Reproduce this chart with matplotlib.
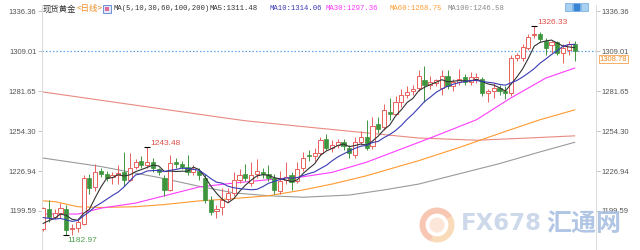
import matplotlib
matplotlib.use("Agg")
import matplotlib.pyplot as plt
import matplotlib.transforms as mtransforms
from matplotlib.patches import Rectangle, Circle, Wedge
import numpy as np
import pandas as pd

# daily candles
opens = [1187, 1201, 1195.5, 1198, 1201, 1187, 1188, 1191, 1222, 1216,
         1227, 1225, 1222.5, 1224, 1226, 1221, 1230, 1234, 1231, 1233,
         1228, 1222, 1214, 1233, 1232, 1230, 1226, 1227, 1222, 1207,
         1199.5, 1202, 1208, 1212, 1221, 1225, 1219, 1225, 1226, 1225,
         1222, 1213, 1221, 1224, 1220, 1229, 1238, 1237, 1239, 1249,
         1243, 1245, 1247, 1243, 1238, 1247, 1250, 1244, 1259, 1257,
         1267, 1266, 1274, 1279, 1281.5, 1284, 1289, 1286, 1287, 1284,
         1292, 1285, 1288, 1291, 1288, 1290, 1290, 1280, 1282, 1284,
         1282, 1280, 1304, 1304, 1311, 1320, 1321, 1316, 1313, 1315,
         1308, 1310, 1314]
highs = [1202.5, 1207, 1201, 1205, 1204, 1191, 1195, 1224, 1225, 1232,
         1229, 1227, 1226, 1231, 1240, 1239, 1235, 1237, 1243.48, 1236,
         1229, 1224, 1238, 1236, 1234, 1238, 1231, 1229, 1225, 1210,
         1204, 1215, 1215, 1226, 1228, 1232, 1233, 1235, 1229, 1231,
         1225, 1227, 1233, 1226, 1233, 1240, 1241, 1242.5, 1250, 1252,
         1248, 1249, 1249, 1245, 1250, 1254, 1262, 1264, 1264, 1273,
         1277, 1278, 1283, 1285, 1286, 1296, 1299, 1292, 1290, 1296,
         1296, 1290, 1297, 1293, 1295, 1294, 1291, 1283, 1287, 1286,
         1285, 1306, 1308, 1314, 1321, 1326.33, 1322, 1318, 1316, 1316,
         1314, 1316, 1316]
lows = [1186, 1192, 1194, 1195, 1182.97, 1183, 1185, 1190, 1211, 1213.5,
        1223, 1220, 1218, 1218, 1217, 1220, 1228, 1229, 1229, 1226,
        1224, 1210, 1213, 1229, 1228, 1224, 1224, 1221, 1205, 1197,
        1195, 1197, 1206, 1210, 1219, 1220, 1217, 1222, 1222, 1220,
        1211, 1211, 1218, 1214, 1219, 1227, 1234, 1234, 1238, 1241,
        1240, 1243, 1241, 1236, 1236, 1245, 1241, 1242, 1253, 1255,
        1262, 1265, 1271, 1277, 1279, 1282, 1274, 1283, 1285, 1279,
        1283, 1282, 1286, 1286, 1286, 1287, 1278, 1274, 1277, 1279,
        1276, 1278, 1302, 1302, 1310, 1318, 1315, 1306, 1308, 1306,
        1301, 1306, 1302]
closes = [1201.5, 1195.5, 1198, 1201.5, 1186.5, 1188, 1192, 1222, 1215, 1226,
          1225, 1222, 1224, 1225.5, 1221, 1229, 1233, 1231, 1233, 1229,
          1226, 1214, 1232.5, 1231.5, 1230, 1226, 1228, 1224, 1207, 1199,
          1201, 1207, 1212, 1221, 1224, 1222, 1224, 1227, 1225, 1222,
          1214, 1220, 1223, 1219.5, 1228, 1236, 1237, 1239, 1248, 1243,
          1245, 1247, 1244, 1239, 1247, 1250, 1243, 1258, 1256, 1269,
          1266, 1274, 1279, 1281, 1283, 1292, 1286, 1288, 1289, 1292,
          1285, 1288, 1290, 1288, 1291, 1291.5, 1280, 1282, 1284, 1282,
          1280, 1304, 1306, 1312, 1318.5, 1321, 1317, 1311, 1315, 1308,
          1311, 1314, 1308.78]
# closes just before the visible window (estimated from where MA5/MA10 start)
prior_closes = [1200, 1203, 1198, 1196, 1198, 1186, 1190, 1187, 1191]

# longer moving averages, read at sample candles
ma30_idx = [0, 6, 10, 16, 21, 27, 33, 39, 45, 50, 56, 62, 67, 75, 81, 87, 92]
ma30_val = [1197.5, 1197.5, 1201.5, 1205, 1210, 1216, 1218.7, 1221, 1223, 1226,
            1233, 1242, 1249.5, 1262, 1277, 1290.5, 1297.36]
ma60_idx = [0, 2, 6, 10, 16, 21, 27, 31, 39, 45, 50, 56, 62, 65, 72, 80, 86, 92]
ma60_val = [1206.5, 1206, 1202.5, 1202, 1202.5, 1204, 1206.5, 1207.5, 1210, 1214,
            1218, 1223.7, 1230.6, 1234, 1243, 1254, 1262, 1268.75]
ma100_idx = [0, 10, 20, 27, 33, 39, 45, 53, 59, 65, 72, 79, 86, 92]
ma100_val = [1235.8, 1230, 1222.5, 1216.5, 1212, 1210, 1209, 1210.5, 1214, 1218,
             1225, 1232, 1240, 1246.58]
ma200_idx = [0, 15, 31, 35, 45, 56, 65, 75, 84, 92]
ma200_val = [1281, 1272.5, 1263.5, 1261.3, 1257.3, 1253, 1249.5, 1248, 1249.5, 1251]

yticks = [1199.59, 1226.94, 1254.30, 1281.65, 1309.01, 1336.36]
last_price = 1308.78

UP = "#e8615c"
DOWN = "#3d963d"
W, H = 640, 250

fig = plt.figure(figsize=(W / 100, H / 100), dpi=100)
ax = fig.add_axes([42 / W, 0, 554 / W, 245 / H])
ax.set_xlim(-0.2, 95.7)
ax.set_ylim(1172.9, 1340.5)

o = np.array(opens)
h = np.array(highs)
l = np.array(lows)
c = np.array(closes)
x = np.arange(len(c))
up = c >= o

# long MAs beneath the candles
ax.plot(ma200_idx, ma200_val, color="#e88a80", lw=0.8, zorder=1)
ax.plot(ma100_idx, ma100_val, color="#9a9a9a", lw=0.8, zorder=1)
ax.plot(ma60_idx, ma60_val, color="#ff9a30", lw=0.8, zorder=1)
ax.plot(ma30_idx, ma30_val, color="#ff3cff", lw=0.8, zorder=1)

# candles: red hollow up, green filled down
ax.vlines(x, l, h, colors=np.where(up, UP, DOWN), lw=0.7, zorder=2)
bottom = np.minimum(o, c)
height = np.maximum(np.abs(c - o), 0.5)
ax.bar(x[up], height[up], bottom=bottom[up], width=0.72, facecolor="white",
       edgecolor=UP, lw=0.7, zorder=3)
ax.bar(x[~up], height[~up], bottom=bottom[~up], width=0.72, facecolor=DOWN,
       edgecolor=DOWN, lw=0.5, zorder=3)

# MA5 / MA10 from closes
s = pd.Series(prior_closes + closes)
n0 = len(prior_closes)
ma5 = s.rolling(5, min_periods=1).mean().values[n0:]
ma10 = s.rolling(10, min_periods=1).mean().values[n0:]
ax.plot(x, ma5, color="#333333", lw=0.8, zorder=4)
ax.plot(x, ma10, color="#3a3ab4", lw=0.8, zorder=4)

# last price line + box
ax.axhline(last_price, color="#5ea6ee", lw=0.9, ls=(0, (1.2, 1.6)), zorder=1)
trans = mtransforms.blended_transform_factory(ax.transAxes, ax.transData)
ax.annotate(f"{last_price:.2f}", xy=(1.0, last_price), xycoords=trans,
            xytext=(2.5, -3), textcoords="offset points", va="top", ha="left",
            fontsize=5.5, color="#f08a24", family="Liberation Sans",
            bbox=dict(facecolor="white", edgecolor="#f5a050", lw=0.6, pad=0.6),
            zorder=6, annotation_clip=False)

# high / low marks
i_hi1 = int(np.argmax(h[:40]))
i_hi2 = int(np.argmax(h))
i_lo = int(np.argmin(l))
for i in (i_hi1, i_hi2):
    ax.plot(i, h[i], marker="_", color="k", ms=4, mew=0.8, zorder=5)
    ax.annotate(f"{h[i]:.2f}", xy=(i, h[i]), xytext=(2.5, 2.5), textcoords="offset points",
                va="center", ha="left", fontsize=6, color="#e0504a",
                family="Liberation Sans", zorder=6)
ax.plot(i_lo, l[i_lo], marker="_", color="k", ms=4, mew=0.8, zorder=5)
ax.annotate(f"{l[i_lo]:.2f}", xy=(i_lo, l[i_lo]), xytext=(1, -4), textcoords="offset points",
            va="center", ha="left", fontsize=6, color="#4e9e4e",
            family="Liberation Sans", zorder=6)

# axes styling
ax.set_yticks(yticks)
ax.set_yticklabels([f"{v:.2f}" for v in yticks], family="Liberation Sans")
ax.set_xticks([])
ax.tick_params(axis="y", left=True, right=True, labelleft=True, labelright=True,
               length=3, width=0.6, color="#bbbbbb", labelsize=5.5,
               labelcolor="#555555", pad=1)
for side in ("top", "bottom"):
    ax.spines[side].set_visible(False)
for side in ("left", "right"):
    ax.spines[side].set_color("#d6d6d6")
    ax.spines[side].set_linewidth(0.6)
ax.set_facecolor("none")

# header line
ty = 1 - 9 / H
cjk = ["Noto Sans CJK SC", "DejaVu Sans"]
mono = "Liberation Mono"
fig.text(43 / W, ty, "现货黄金", family=cjk, fontsize=6, color="#333333", va="center")
fig.text(77 / W, ty, "<日线>", family=cjk, fontsize=6, color="#f08a24", va="center")
fig.add_artist(Rectangle((103 / W, 1 - 13 / H), 8 / W, 8 / H, transform=fig.transFigure,
                         facecolor="#dfe8f8", edgecolor="#5a7fd0", lw=0.6))
fig.add_artist(Rectangle((105 / W, 1 - 11 / H), 4 / W, 4 / H, transform=fig.transFigure,
                         facecolor="#e46a9a", edgecolor="none"))
fig.text(113 / W, ty, "MA(5,10,30,60,100,200)", family=mono, fontsize=5.2, color="#333333", va="center")
fig.text(210 / W, ty, "MA5:1311.48", family=mono, fontsize=5.2, color="#333333", va="center")
fig.text(270 / W, ty, "MA10:1314.06", family=mono, fontsize=5.2, color="#3a3ab4", va="center")
fig.text(326 / W, ty, "MA30:1297.36", family=mono, fontsize=5.2, color="#ff33ff", va="center")
fig.text(389 / W, ty, "MA60:1268.75", family=mono, fontsize=5.2, color="#ff9a30", va="center")
fig.text(447 / W, ty, "MA100:1246.58", family=mono, fontsize=5.2, color="#888888", va="center")

# small toolbar icons at top right
for k, fc in enumerate(["#a8d0f0", "#3a84d6", "#a8d0f0"]):
    fig.add_artist(Rectangle(((565 + k * 8) / W, 1 - 11 / H), 7 / W, 8 / H,
                             transform=fig.transFigure, facecolor=fc,
                             edgecolor="#6aa6de", lw=0.5))

# watermark
lax = fig.add_axes([418 / W, 6 / H, 38 / W, 38 / H])
lax.set_xlim(0, 1)
lax.set_ylim(0, 1)
lax.set_axis_off()
lax.add_patch(Wedge((0.5, 0.5), 0.46, 30, 250, width=0.16, facecolor="#f7b9a0", edgecolor="none", alpha=0.8))
lax.add_patch(Wedge((0.5, 0.5), 0.46, 250, 390, width=0.16, facecolor="#f9d2a8", edgecolor="none", alpha=0.8))
lax.add_patch(Circle((0.5, 0.5), 0.2, facecolor="#fbe0d0", edgecolor="none", alpha=0.8))
fig.text(461 / W, 1 - 224 / H, "FX678", fontsize=16.5, weight="bold", color="#c8d5e8",
         va="center", family="DejaVu Sans", alpha=0.9)
fig.text(546 / W, 1 - 224 / H, "汇通网", fontsize=18, weight="bold", color="#a9c0e2",
         va="center", family=cjk, alpha=0.9)

fig.savefig("out.png", dpi=100)
